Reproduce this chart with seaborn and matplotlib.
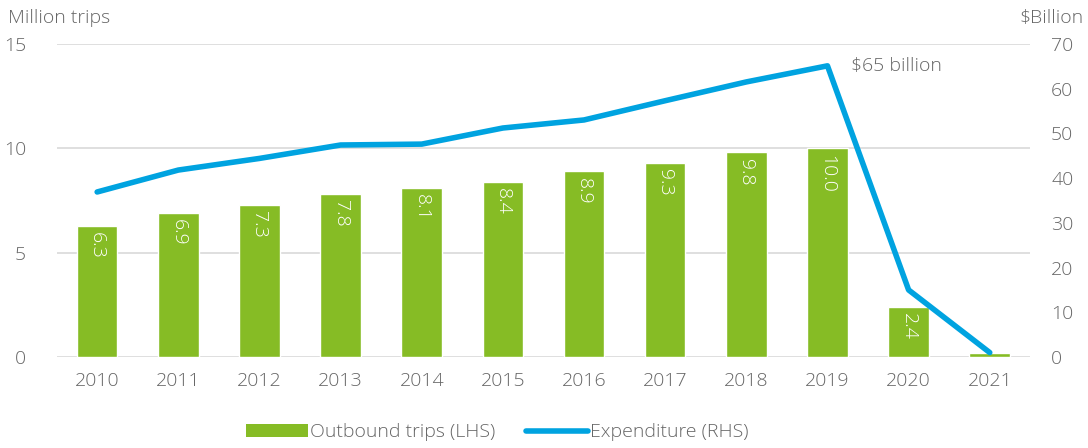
import matplotlib
matplotlib.use("Agg")
import matplotlib.pyplot as plt
import seaborn as sns
import pandas as pd
from matplotlib.patches import Patch
from matplotlib.lines import Line2D

years = ["2010", "2011", "2012", "2013", "2014", "2015", "2016", "2017", "2018", "2019", "2020", "2021"]
trips = [6.3, 6.9, 7.3, 7.8, 8.1, 8.4, 8.9, 9.3, 9.8, 10.0, 2.4, 0.2]
trip_labels = ["6.3", "6.9", "7.3", "7.8", "8.1", "8.4", "8.9", "9.3", "9.8", "10.0", "2.4", ""]
expenditure = [36.9, 41.8, 44.4, 47.4, 47.6, 51.2, 53.0, 57.3, 61.5, 65.1, 15.0, 1.0]

GREEN = "#86bc25"
BLUE = "#00a3e0"
GREY = "#666666"
FS = 14

sns.set_theme(style="white")
plt.rcParams['font.family'] = ['Open Sans', 'DejaVu Sans']
plt.rcParams['font.weight'] = 300

df = pd.DataFrame({"year": years, "trips": trips, "exp": expenditure})
df["pos"] = range(len(years))

fig = plt.figure(figsize=(10.88, 4.48), dpi=100)
ax = fig.add_axes([0.052, 0.203, 0.895, 0.699])

sns.barplot(data=df, x="year", y="trips", color=GREEN, width=0.5, saturation=1, ax=ax, zorder=2)
ax.set_ylim(0, 15)
ax.set_yticks([0, 5, 10, 15])
ax.yaxis.grid(True, color="#d9d9d9", linewidth=1.2, zorder=0)
ax.set_axisbelow(True)
ax.set_xlabel("")
ax.set_ylabel("")
for s in ax.spines.values():
    s.set_visible(False)
ax.tick_params(axis="both", length=0, labelsize=FS, labelcolor=GREY)
ax.tick_params(axis="x", pad=11)
ax.tick_params(axis="y", pad=22)

for i, (v, lab) in enumerate(zip(trips, trip_labels)):
    if lab:
        ax.text(i, v - 0.3, lab, rotation=270, ha="center", va="top",
                color="white", fontsize=FS)

ax2 = ax.twinx()
sns.lineplot(data=df, x="pos", y="exp", color=BLUE, linewidth=4, ax=ax2)
ax2.set_ylim(0, 70)
ax2.set_yticks(range(0, 71, 10))
ax2.set_xlabel("")
ax2.set_ylabel("")
for s in ax2.spines.values():
    s.set_visible(False)
ax2.tick_params(axis="y", length=0, labelsize=FS, labelcolor=GREY, pad=15)
ax.set_xlim(-0.5, len(years) - 0.5)
ax2.set_xlim(-0.5, len(years) - 0.5)

ax2.annotate("$65 billion", xy=(9, expenditure[9]), xytext=(17, 0), textcoords="offset points",
             ha="left", va="center", fontsize=FS, color=GREY)

fig.text(0.007, 0.96, "Million trips", fontsize=FS, color=GREY, ha="left", va="center")
fig.text(0.996, 0.96, "$Billion", fontsize=FS, color=GREY, ha="right", va="center")

handles = [Patch(facecolor=GREEN, edgecolor="none"),
           Line2D([0], [0], color=BLUE, linewidth=4, solid_capstyle="round")]
fig.legend(handles, ["Outbound trips (LHS)", "Expenditure (RHS)"], loc="center",
           bbox_to_anchor=(0.457, 0.035), ncol=2, frameon=False, fontsize=FS,
           labelcolor=GREY, handlelength=3.2, handletextpad=0.1, columnspacing=1.6)

fig.savefig("out.png", dpi=100)
